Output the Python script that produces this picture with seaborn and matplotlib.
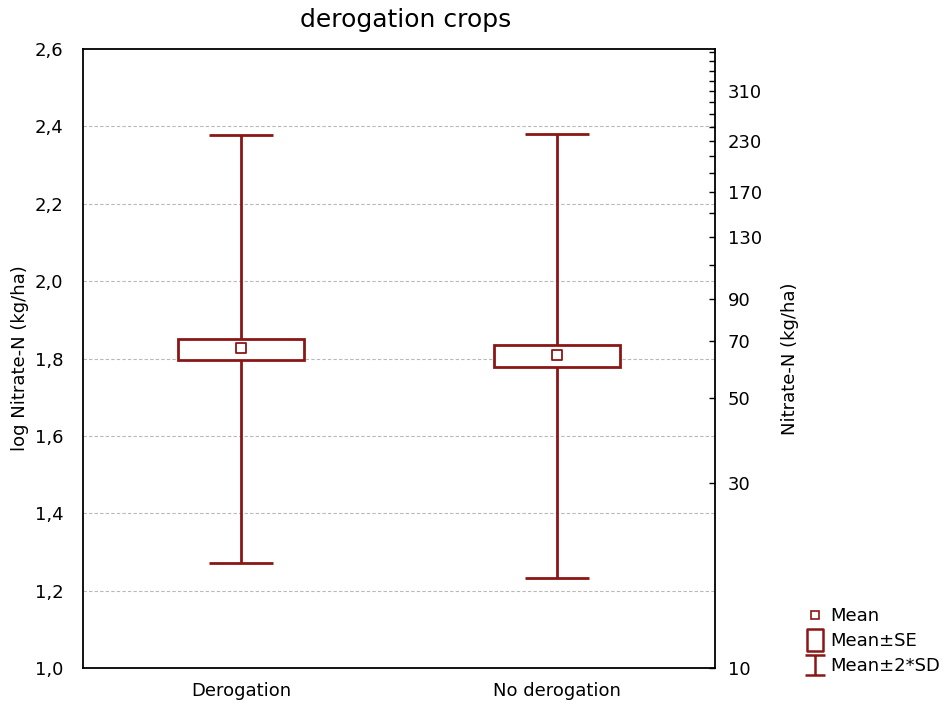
import numpy as np
import pandas as pd
import matplotlib
matplotlib.use("Agg")
import matplotlib.pyplot as plt
from matplotlib.path import Path
from matplotlib.lines import Line2D
from matplotlib.ticker import FuncFormatter
import seaborn as sns

# ---- data ----
groups = ["Derogation", "No derogation"]
means = [1.826, 1.810]
se_low = [1.797, 1.777]
se_high = [1.851, 1.834]
sd2_low = [1.271, 1.233]
sd2_high = [2.378, 2.379]

right_tick_values = list(range(10, 400, 20))
right_tick_labels = [10, 30, 50, 70, 90, 130, 170, 230, 310]

df = pd.DataFrame({"group": groups, "mean": means, "se_low": se_low,
                   "se_high": se_high, "sd2_low": sd2_low, "sd2_high": sd2_high})

sns.set_theme(style="white")
plt.rcParams["font.family"] = ["DejaVu Sans"]
plt.rcParams["text.color"] = "black"
plt.rcParams["axes.labelcolor"] = "black"

FS = 13
RED = "#8b1616"
fig = plt.figure(figsize=(9.48, 7.05), dpi=100)
ax = fig.add_axes([83 / 948, 1 - 668 / 705, (715 - 83) / 948, (668 - 49) / 705])

xpos = np.arange(len(groups))
box_w = 0.40
cap_w = 0.205

# whiskers (mean ± 2*SD)
ax.vlines(xpos, df["sd2_low"], df["se_low"], color=RED, lw=2, zorder=2)
ax.vlines(xpos, df["se_high"], df["sd2_high"], color=RED, lw=2, zorder=2)
ax.hlines(df["sd2_low"], xpos - cap_w / 2, xpos + cap_w / 2, color=RED, lw=2, zorder=2)
ax.hlines(df["sd2_high"], xpos - cap_w / 2, xpos + cap_w / 2, color=RED, lw=2, zorder=2)

# boxes (mean ± SE)
ax.bar(xpos, df["se_high"] - df["se_low"], bottom=df["se_low"], width=box_w,
       facecolor="white", edgecolor=RED, linewidth=2, zorder=3)

# means
sns.scatterplot(x=xpos, y=df["mean"], ax=ax, marker="s", s=50,
                facecolor="white", edgecolor=RED, linewidth=1.3, zorder=4)

ax.set_xlim(-0.5, 1.5)
ax.set_ylim(1.0, 2.6)
ax.set_xticks(xpos)
ax.set_xticklabels(groups)
ax.set_yticks(np.arange(1.0, 2.61, 0.2))
ax.yaxis.set_major_formatter(FuncFormatter(lambda v, p: f"{v:.1f}".replace(".", ",")))
ax.tick_params(axis="both", length=0, labelsize=FS, colors="black")
ax.tick_params(axis="y", pad=14)
ax.tick_params(axis="x", pad=10)
for yv in np.arange(1.2, 2.5, 0.2):
    ax.axhline(yv, color="#b8b8b8", lw=0.8, ls=(0, (3, 2)), zorder=0)
for s in ax.spines.values():
    s.set_visible(True)
    s.set_color("black")
    s.set_linewidth(1.3)
ax.set_ylabel("log Nitrate-N (kg/ha)", fontsize=FS, labelpad=4)
ax.set_title("derogation crops", fontsize=18, pad=16, x=0.51)

# right axis
ax2 = ax.twinx()
ax2.set_ylim(1.0, 2.6)
ax2.set_yticks(np.log10(right_tick_values))
ax2.set_yticklabels([str(v) if v in right_tick_labels else "" for v in right_tick_values])
ax2.tick_params(axis="y", direction="in", length=4, width=1, pad=9, labelsize=FS,
                colors="black", right=True)
ax2.grid(False)
for s in ax2.spines.values():
    s.set_visible(False)
ax2.set_ylabel("Nitrate-N (kg/ha)", fontsize=FS, labelpad=14)

# legend
i_path = Path([(-0.5, 0.5), (0.5, 0.5), (0, 0.5), (0, -0.5), (-0.5, -0.5), (0.5, -0.5)],
              [Path.MOVETO, Path.LINETO, Path.MOVETO, Path.LINETO, Path.MOVETO, Path.LINETO])
r_path = Path([(-0.35, -0.5), (0.35, -0.5), (0.35, 0.5), (-0.35, 0.5), (-0.35, -0.5)],
              [Path.MOVETO, Path.LINETO, Path.LINETO, Path.LINETO, Path.CLOSEPOLY])
handles = [
    Line2D([], [], ls="none", marker="s", markersize=6, markerfacecolor="white",
           markeredgecolor=RED, markeredgewidth=1.2),
    Line2D([], [], ls="none", marker=r_path, markersize=16, markerfacecolor="white",
           markeredgecolor=RED, markeredgewidth=1.8),
    Line2D([], [], ls="none", marker=i_path, markersize=14, markerfacecolor="none",
           markeredgecolor=RED, markeredgewidth=1.8),
]
fig.legend(handles, ["Mean", "Mean±SE", "Mean±2*SD"], loc="upper left",
           bbox_to_anchor=(797 / 948, 1 - 598 / 705), frameon=False, fontsize=FS,
           handlelength=1.0, handletextpad=0.35, labelspacing=0.4, borderpad=0)

fig.savefig("out.png", dpi=100)
